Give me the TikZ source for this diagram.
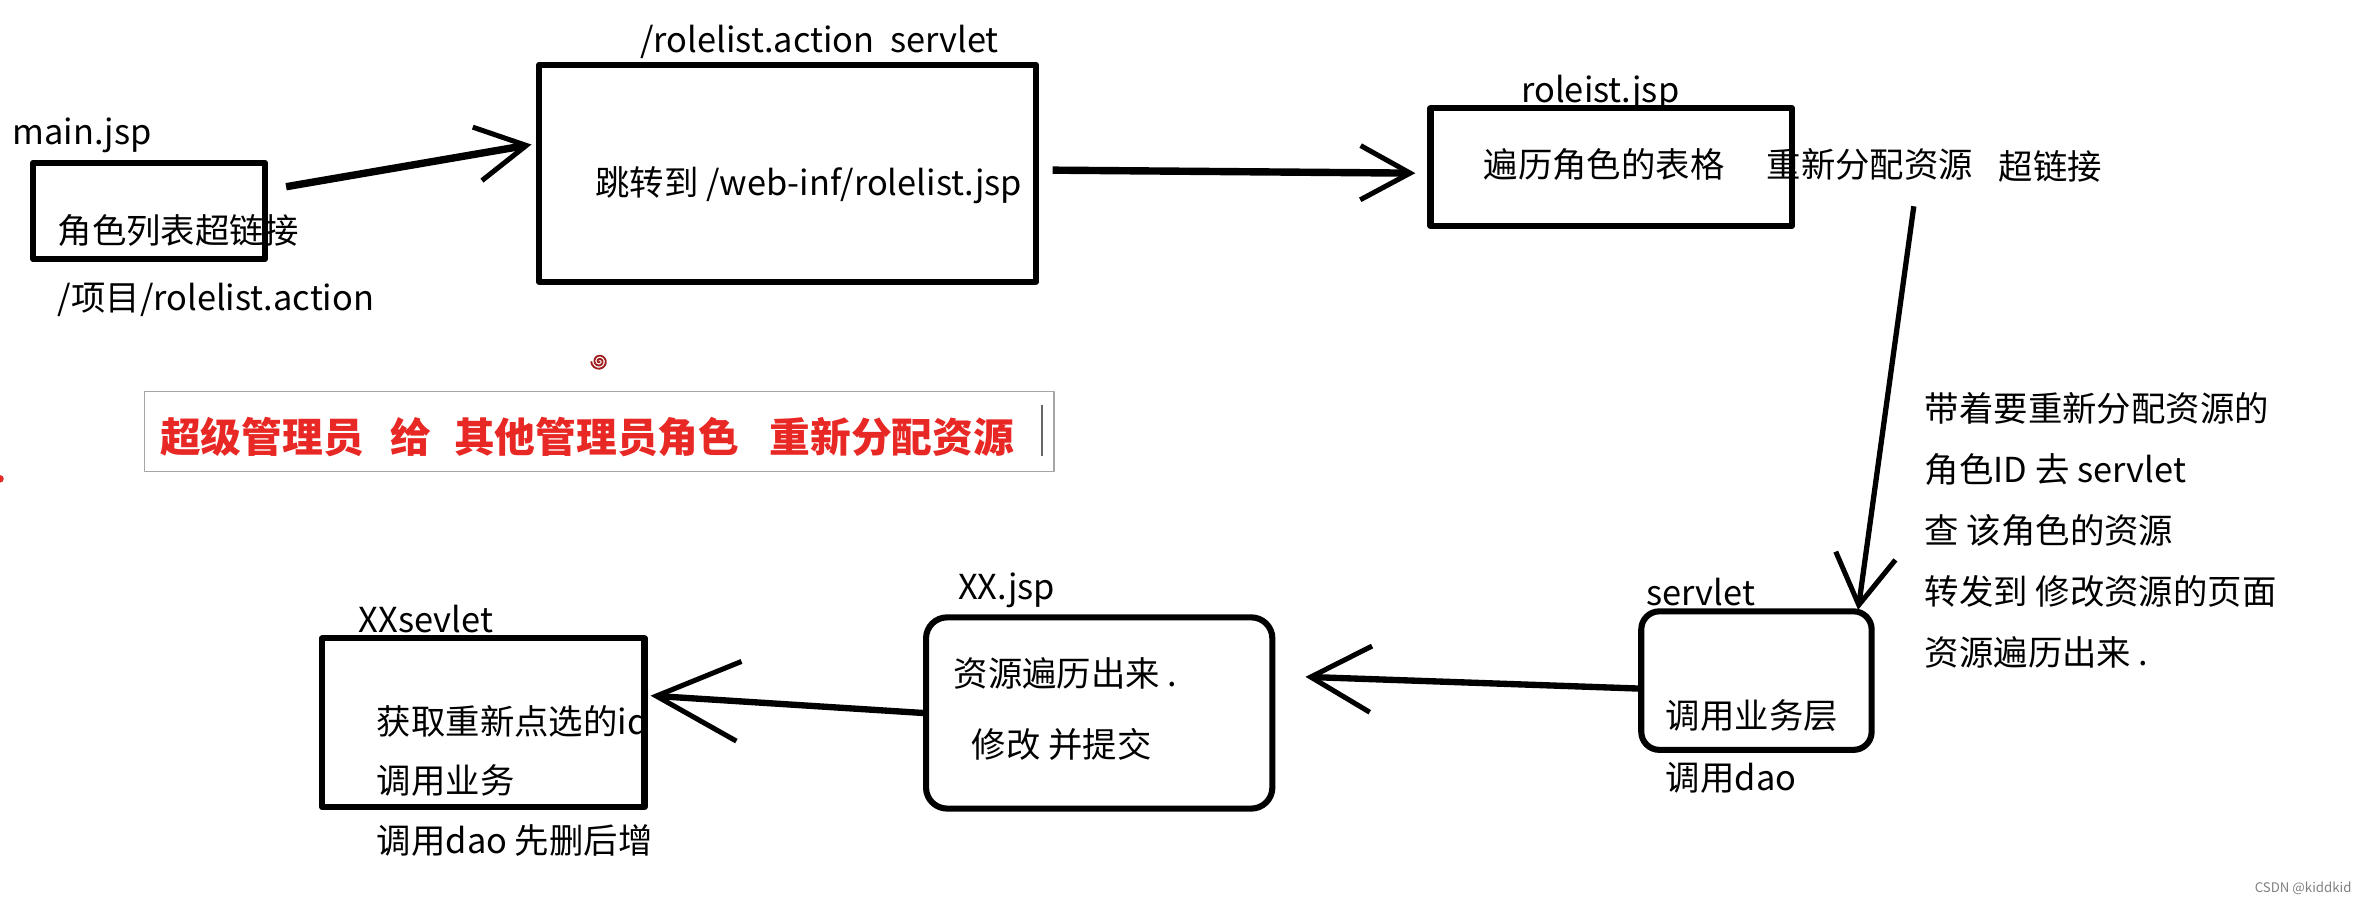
\documentclass[tikz,border=0pt]{standalone}
\usepackage{fontspec}
\setmainfont{Noto Sans CJK SC}
\usetikzlibrary{arrows.meta}
\def\px{0.02cm}
\definecolor{banred}{RGB}{232,40,36}
\definecolor{swirlred}{RGB}{160,30,30}

\begin{document}
\begin{tikzpicture}[x=\px,y=-\px,line join=round]
    \tikzstyle{box}=[rectangle,draw=black,line width=2.3pt,inner sep=0pt]
    \tikzstyle{rbox}=[box,rounded corners=0.28cm]
    \tikzstyle{txt}=[anchor=base west,inner sep=0pt,font=\fontsize{13}{15}\selectfont]
    \tikzstyle{flow}=[line width=2.8pt,-{Straight Barb[length=0.66cm,width=0.72cm,line width=1.9pt]}]

    \useasboundingbox (0,0) rectangle (1568,602);

    \node[box,minimum width=154*\px,minimum height=64*\px] (main) at (99,140) {};
    \node[box,minimum width=330*\px,minimum height=144*\px] (act) at (523,115) {};
    \node[box,minimum width=240*\px,minimum height=78*\px] (list) at (1070,111) {};
    \node[rbox,rounded corners=0.24cm,minimum width=153*\px,minimum height=92*\px] (sv) at (1166.5,452) {};
    \node[rbox,minimum width=230*\px,minimum height=127*\px] (xx) at (730,473.5) {};
    \node[box,minimum width=214*\px,minimum height=112*\px] (xs) at (321,480) {};

    \node[txt] (mainlbl) at (8,96) {main.jsp};
    \node[txt] (maintxt) at (38,162) {角色列表超链接};
    \node[txt] (mainurl) at (38,206) {/项目/rolelist.action};
    \node[txt] (actlbl) at (425,35) {/rolelist.action\ \ servlet};
    \node[txt] (acttxt) at (395,130) {跳转到 /web-inf/rolelist.jsp};
    \node[txt] (listlbl) at (1010,68) {roleist.jsp};
    \node[txt] (listtxt) at (985,118) {遍历角色的表格};
    \node[txt] (relink) at (1173,118) {重新分配资源};
    \node[txt] (hyper) at (1327,119) {超链接};

    \foreach \t [count=\i] in {带着要重新分配资源的, 角色ID 去 servlet, 查 该角色的资源, 转发到 修改资源的页面, 资源遍历出来 .}
        \node[txt] (note-\i) at (1278,239.5+40.5*\i) {\t};

    \node[txt] (svlbl) at (1093,402) {servlet};
    \node[txt] (svtxt) at (1106,484) {调用业务层};
    \node[txt] (svdao) at (1106,525) {调用dao};
    \node[txt] (xxlbl) at (636,398) {XX.jsp};
    \node[txt] (xxtxt) at (633,456) {资源遍历出来 .};
    \node[txt] (xxsub) at (645,503) {修改 并提交};
    \node[txt] (xslbl) at (238,420) {XXsevlet};
    \node[txt] (xstxt) at (250,488) {获取重新点选的id};
    \node[txt] (xscall) at (250,527) {调用业务};
    \node[txt] (xsdao) at (250,567) {调用dao 先删后增};

    \node[draw=gray!70,line width=0.6pt,minimum width=604*\px,minimum height=53*\px,inner sep=0pt] (banner) at (398,286.5) {};
    \node[anchor=west,inner sep=0pt,text=banred,font=\fontsize{15.4}{18}\selectfont\bfseries] (bantxt) at (106,290)
        {超级管理员\hspace{0.36cm}给\hspace{0.3cm}其他管理员角色\hspace{0.4cm}重新分配资源};
    \draw[line width=0.6pt,gray!80!black] (692,269) -- (692,303);

    \draw[flow] ([shift={(12,-16)}]main.east) -- ([shift={(-3,-19)}]act.west);
    \draw[flow] ([shift={(9,-2)}]act.east) -- ([shift={(-8,4)}]list.west);
    \coordinate (pick) at (1271,137);
    \draw[flow,line width=2pt,-{Straight Barb[length=0.66cm,width=0.8cm,line width=1.9pt]}] (pick) -- ([shift={(-11,1)}]sv.north east);
    \draw[flow,line width=2.4pt,-{Straight Barb[length=0.8cm,width=0.88cm,line width=1.9pt]}] ([yshift=-3]sv.west) -- ([shift={(20,-24)}]xx.east);
    \draw[flow,line width=2.4pt,-{Straight Barb[length=1.1cm,width=1.06cm,line width=1.9pt]}] (xx.west) -- ([shift={(2,-18)}]xs.east);

    \draw[swirlred,line width=0.7pt,domain=0:900,samples=40,smooth,variable=\a] plot ({398+0.006*\a*cos(\a)},{240+0.006*\a*sin(\a)});
    \fill[banred] (0,318) circle (2.5);
    \node[anchor=base east,inner sep=0pt,font=\fontsize{5}{6}\selectfont,text=gray] (mark) at (1562,593) {CSDN @kiddkid};
\end{tikzpicture}
\end{document}
